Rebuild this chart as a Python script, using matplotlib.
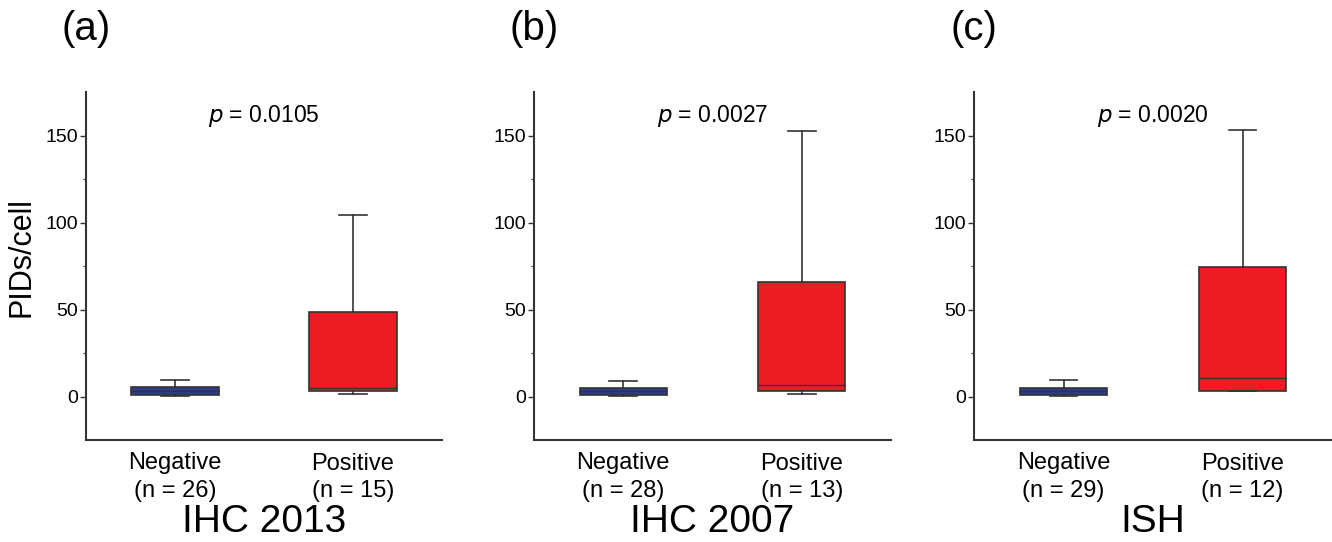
import matplotlib
matplotlib.use("Agg")
import matplotlib.pyplot as plt

plt.rcParams['font.family'] = ['Liberation Sans', 'DejaVu Sans']

# values (PIDs/cell)
panels = ['(a)', '(b)', '(c)']
titles = ['IHC 2013', 'IHC 2007', 'ISH']
p_values = ['0.0105', '0.0027', '0.0020']
n_neg = [26, 28, 29]
n_pos = [15, 13, 12]

# [negative, positive] for each panel
whis_low = [[0.4, 1.3], [0.4, 1.7], [0.4, 2.9]]
q1 = [[1.1, 3.4], [1.1, 3.4], [1.1, 3.4]]
median = [[3.2, 5.0], [3.0, 6.7], [3.1, 10.9]]
q3 = [[5.5, 48.7], [4.9, 65.7], [5.0, 74.3]]
whis_high = [[9.2, 104.3], [9.1, 152.7], [9.2, 153.2]]

box_colors = ['#2e3b8f', '#ed1c24']
line_col = '#333333'

fig = plt.figure(figsize=(13.32, 5.42), dpi=100)
lefts = [86, 534, 974]
widths = [356, 357, 358]

for i in range(3):
    ax = fig.add_axes([lefts[i] / 1332, 1 - 440 / 542, widths[i] / 1332, (440 - 92) / 542])
    stats = []
    for j in range(2):
        stats.append(dict(whislo=whis_low[i][j], q1=q1[i][j], med=median[i][j],
                          q3=q3[i][j], whishi=whis_high[i][j], fliers=[]))
    bp = ax.bxp(stats, positions=[1, 2], widths=0.49, patch_artist=True, showfliers=False,
                boxprops=dict(edgecolor=line_col, linewidth=1.2),
                medianprops=dict(color=line_col, linewidth=1.0),
                whiskerprops=dict(color=line_col, linewidth=1.2),
                capprops=dict(color=line_col, linewidth=1.2))
    for patch, c in zip(bp['boxes'], box_colors):
        patch.set_facecolor(c)
    # narrower caps, as in the reference
    for cap in bp['caps']:
        x = cap.get_xdata()
        mid = (x[0] + x[1]) / 2
        cap.set_xdata([mid - 0.078, mid + 0.078])

    ax.set_xlim(0.5, 2.5)
    ax.set_ylim(-25, 175)
    ax.set_yticks([0, 50, 100, 150])
    ax.set_yticks([25, 75, 125], minor=True)
    ax.set_xticks([1, 2])
    ax.set_xticklabels([f'Negative\n(n = {n_neg[i]})', f'Positive\n(n = {n_pos[i]})'],
                       fontsize=17, linespacing=1.3)
    ax.tick_params(axis='x', length=0, pad=9)
    ax.tick_params(axis='y', which='major', length=4, width=1, labelsize=14, pad=2, color=line_col)
    ax.tick_params(axis='y', which='minor', length=2.5, width=0.8, color=line_col)
    for s in ['top', 'right']:
        ax.spines[s].set_visible(False)
    for s in ['left', 'bottom']:
        ax.spines[s].set_color(line_col)
        ax.spines[s].set_linewidth(1.5)

    ax.text(1.5, 161, f'$p$ = {p_values[i]}', ha='center', va='center', fontsize=16.5)
    ax.text(1.5, -0.235, titles[i], transform=ax.get_xaxis_transform(), ha='center', va='center',
            fontsize=28)
    ax.text(0.0, 1.18, panels[i], transform=ax.transAxes, ha='center', va='center', fontsize=29)
    if i == 0:
        ax.set_ylabel('PIDs/cell', fontsize=22)
        ax.yaxis.set_label_coords(-0.14, 0.525)

fig.savefig('out.png', dpi=100)
